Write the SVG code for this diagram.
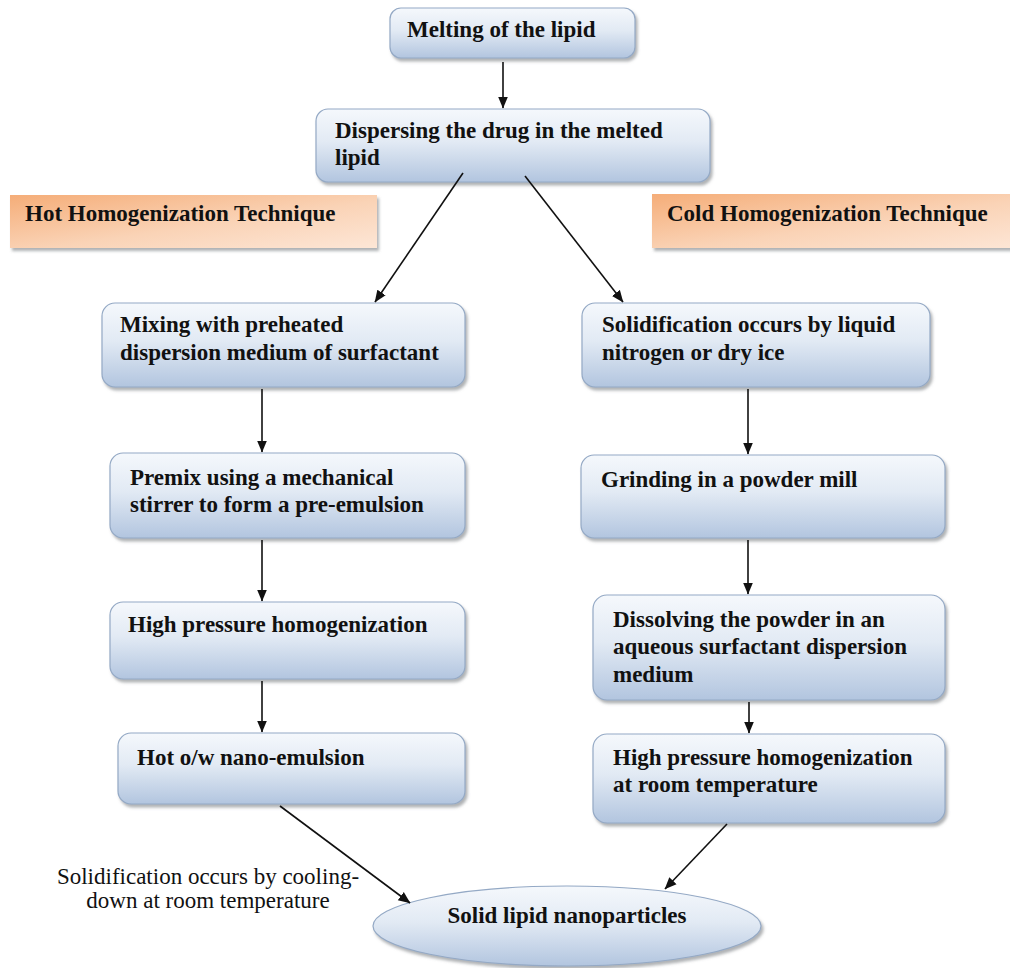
<svg xmlns="http://www.w3.org/2000/svg" width="1010" height="968" viewBox="0 0 1010 968">
  <defs>
    <linearGradient id="blueFill" x1="0" y1="0" x2="0" y2="1">
      <stop offset="0" stop-color="#f5f8fc"/>
      <stop offset="0.45" stop-color="#e2eaf4"/>
      <stop offset="1" stop-color="#b2c5df"/>
    </linearGradient>
    <linearGradient id="orangeFill" x1="0" y1="0" x2="1" y2="1">
      <stop offset="0" stop-color="#f5ad78"/>
      <stop offset="0.55" stop-color="#fad3b6"/>
      <stop offset="1" stop-color="#fde6d6"/>
    </linearGradient>
    <filter id="shadow" x="-5%" y="-10%" width="112%" height="130%">
      <feDropShadow dx="2" dy="3" stdDeviation="1.6" flood-color="#6e7378" flood-opacity="0.55"/>
    </filter>
    <marker id="arrow" viewBox="0 0 12 11" refX="11.5" refY="5.5" markerWidth="12" markerHeight="11" markerUnits="userSpaceOnUse" orient="auto">
      <path d="M0,0.5 L12,5.5 L0,10.5 Z" fill="#111"/>
    </marker>
    <style>
      .box { fill: url(#blueFill); stroke: #94a9c5; stroke-width: 1.2; filter: url(#shadow); }
      .tab { fill: url(#orangeFill); stroke: none; filter: url(#shadow); }
      .t { font-family: "Liberation Serif", "Times New Roman", serif; font-size: 23px; font-weight: bold; fill: #111; }
      .note { font-family: "Liberation Serif", "Times New Roman", serif; font-size: 23px; fill: #111; }
      .edge { stroke: #111; stroke-width: 1.6; fill: none; marker-end: url(#arrow); }
    </style>
  </defs>

  <rect width="1010" height="968" fill="#ffffff"/>

  <!-- common trunk -->
  <g id="melting">
    <rect class="box" x="390" y="8" width="245" height="50" rx="11"/>
    <text class="t" x="407" y="37">Melting of the lipid</text>
  </g>
  <g id="dispersing">
    <rect class="box" x="316" y="109" width="394" height="73" rx="12"/>
    <text class="t" x="335" y="138">Dispersing the drug in the melted</text>
    <text class="t" x="335" y="165">lipid</text>
  </g>

  <!-- technique headers -->
  <g id="hot-header">
    <rect class="tab" x="10" y="195" width="367" height="53"/>
    <text class="t" x="25" y="221">Hot Homogenization Technique</text>
  </g>
  <g id="cold-header">
    <rect class="tab" x="652" y="194" width="370" height="54"/>
    <text class="t" x="667" y="221">Cold Homogenization Technique</text>
  </g>

  <!-- hot branch -->
  <g id="mixing">
    <rect class="box" x="102" y="303" width="363" height="84" rx="13"/>
    <text class="t" x="120" y="332">Mixing with preheated</text>
    <text class="t" x="120" y="360">dispersion medium of surfactant</text>
  </g>
  <g id="premix">
    <rect class="box" x="110" y="453" width="355" height="85" rx="13"/>
    <text class="t" x="130" y="485">Premix using a mechanical</text>
    <text class="t" x="130" y="512">stirrer to form a pre-emulsion</text>
  </g>
  <g id="hph-hot">
    <rect class="box" x="110" y="602" width="355" height="77" rx="13"/>
    <text class="t" x="128" y="632">High pressure homogenization</text>
  </g>
  <g id="nanoemulsion">
    <rect class="box" x="118" y="733" width="347" height="71" rx="13"/>
    <text class="t" x="137" y="765">Hot o/w nano-emulsion</text>
  </g>

  <!-- cold branch -->
  <g id="solidification">
    <rect class="box" x="582" y="303" width="348" height="84" rx="13"/>
    <text class="t" x="602" y="332">Solidification occurs by liquid</text>
    <text class="t" x="602" y="360">nitrogen or dry ice</text>
  </g>
  <g id="grinding">
    <rect class="box" x="581" y="455" width="364" height="83" rx="13"/>
    <text class="t" x="601" y="487">Grinding in a powder mill</text>
  </g>
  <g id="dissolving">
    <rect class="box" x="593" y="595" width="352" height="105" rx="14"/>
    <text class="t" x="613" y="627">Dissolving the powder in an</text>
    <text class="t" x="613" y="654">aqueous surfactant dispersion</text>
    <text class="t" x="613" y="682">medium</text>
  </g>
  <g id="hph-cold">
    <rect class="box" x="593" y="734" width="352" height="89" rx="14"/>
    <text class="t" x="613" y="765">High pressure homogenization</text>
    <text class="t" x="613" y="792">at room temperature</text>
  </g>

  <!-- product -->
  <g id="sln">
    <ellipse class="box" cx="567" cy="926" rx="194" ry="40"/>
    <text class="t" x="567" y="923" text-anchor="middle">Solid lipid nanoparticles</text>
  </g>

  <g id="cooling-note">
    <text class="note" x="208" y="884" text-anchor="middle">Solidification occurs by cooling-</text>
    <text class="note" x="208" y="908" text-anchor="middle">down at room temperature</text>
  </g>

  <!-- connectors -->
  <g id="connectors">
    <line class="edge" x1="503" y1="62" x2="503" y2="108"/>
    <line class="edge" x1="463" y1="173" x2="375" y2="302"/>
    <line class="edge" x1="525" y1="176" x2="623" y2="302"/>
    <line class="edge" x1="262" y1="389" x2="262" y2="452"/>
    <line class="edge" x1="262" y1="540" x2="262" y2="601"/>
    <line class="edge" x1="262" y1="681" x2="262" y2="732"/>
    <line class="edge" x1="748" y1="389" x2="748" y2="454"/>
    <line class="edge" x1="748" y1="540" x2="748" y2="594"/>
    <line class="edge" x1="749" y1="702" x2="749" y2="733"/>
    <line class="edge" x1="280" y1="806" x2="410" y2="903"/>
    <line class="edge" x1="727" y1="824" x2="665" y2="889"/>
  </g>
</svg>
